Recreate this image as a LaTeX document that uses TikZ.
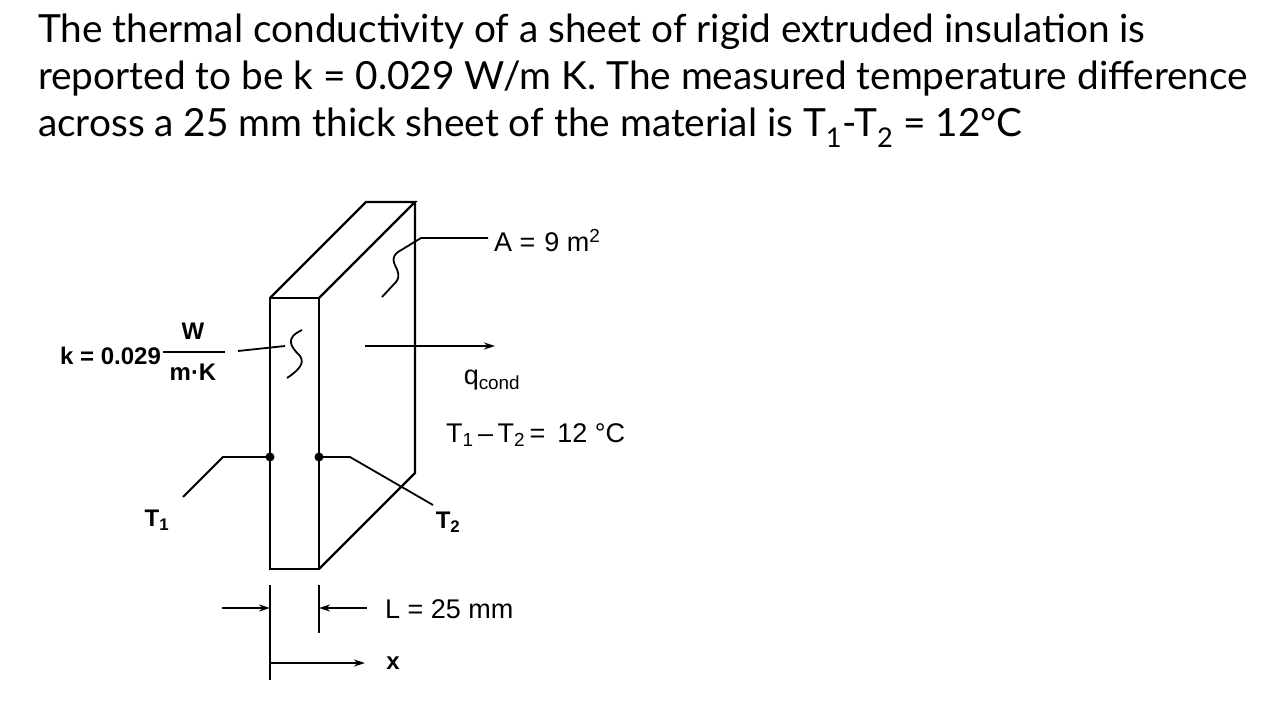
\documentclass[tikz,border=0pt]{standalone}
\usepackage{fontspec}
\setmainfont{Lato}
\newfontfamily\arial{Liberation Sans}
\usetikzlibrary{arrows.meta}
\begin{document}
\begin{tikzpicture}[x=1pt,y=-1pt,line width=2.2pt,
  lab/.style={font=\arial\fontsize{27}{30}\selectfont,inner sep=1pt},
  blab/.style={font=\arial\bfseries\fontsize{24}{27}\selectfont,inner sep=1pt},
  arr/.style={-{Stealth[length=11pt,width=7pt]},line width=1.8pt},
  thin/.style={line width=1.8pt}]
\useasboundingbox (0,0) rectangle (1269,703);
\node[anchor=west,font=\fontsize{38.8}{47}\selectfont,align=left,inner sep=0pt] (title) at (37,81)
 {The thermal conductivity of a sheet of rigid extruded insulation is\\
  reported to be k = 0.029 W/m K. The measured temperature difference\\
  across a 25 mm thick sheet of the material is T\textsubscript{1}-T\textsubscript{2} = 12°C};
% slab
\coordinate (a) at (270,298); \coordinate (b) at (319,298);
\coordinate (c) at (319,569); \coordinate (d) at (270,569);
\coordinate (e) at (366,202); \coordinate (f) at (415,202); \coordinate (g) at (415,473);
\draw[line join=miter] (a)--(b)--(c)--(d)--cycle;
\draw (a)--(e)--(f)--(b); \draw (f)--(g)--(c);
% dots
\coordinate (p1) at (270,457); \coordinate (p2) at (319,457);
\fill (p1) circle (4.5); \fill (p2) circle (4.5);
\draw[thin] (p1)--(223,457)--(183,497);
\draw[thin] (p2)--(350,457)--(433,505);
\node[blab] (t1) at (157,520) {T\textsubscript{1}};
\node[blab] (t2) at (448,522) {T\textsubscript{2}};
% A
\draw[thin] (488,238)--(421,238)--(398,252) .. controls (385,262) and (405,270) .. (396,282) -- (382,297);
\node[lab,anchor=west] (A) at (492,241) {A =\,\,9 m\textsuperscript{2}};
% q
\draw[arr] (365,346)--(495,346);
\node[lab] (q) at (492,380) {q\textsubscript{cond}};
\node[lab,anchor=west] (dT) at (444,435) {T\textsubscript{1}\,–\,T\textsubscript{2}\,= \,12 °C};
% k
\draw[thin] (238,351)--(285,346);
\draw[thin] (302,330) .. controls (285,338) and (290,346) .. (300,356) .. controls (306,364) and (296,372) .. (287,378);
\node[blab,anchor=east] (k) at (163,356) {k = 0.029};
\node[blab] (kw) at (193,331) {W};
\node[blab] (km) at (193,372) {m·K};
\draw[thin] (163,352)--(225,352);
% dims
\draw[thin] (270,585)--(270,680); \draw[thin] (319,585)--(319,633);
\draw[arr] (222,608)--(270,608); \draw[arr] (367,608)--(319,608);
\node[lab,anchor=west] (L) at (383,609) {L = 25 mm};
\draw[arr] (270,663)--(365,663);
\node[blab] (x) at (393,663) {x};
\end{tikzpicture}
\end{document}
